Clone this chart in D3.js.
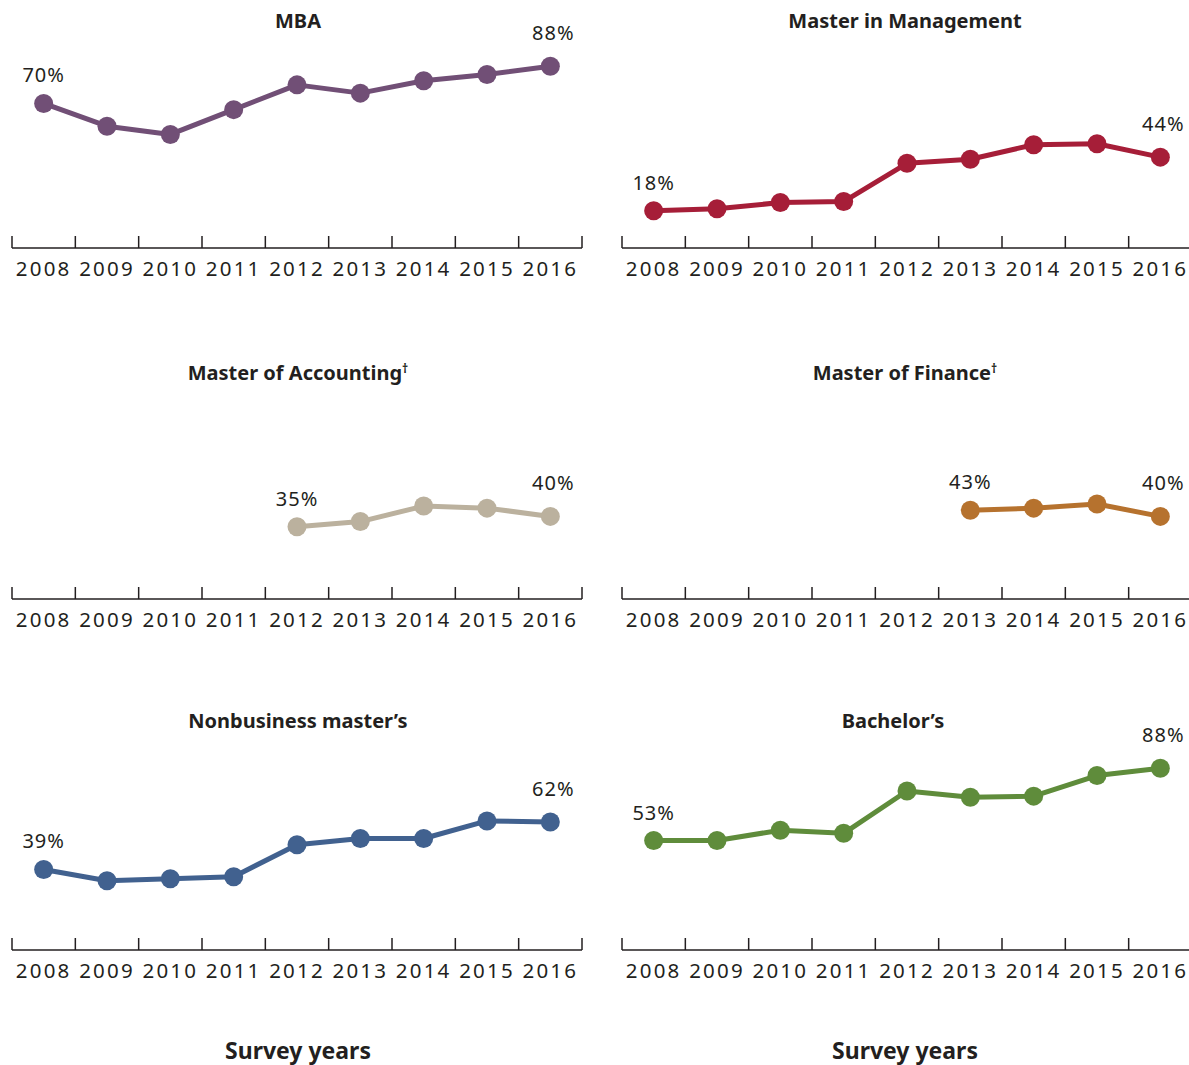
<!DOCTYPE html>
<html>
<head>
<meta charset="utf-8">
<script src="https://cdn.jsdelivr.net/npm/d3@7"></script>
<style>
  body { margin: 0; background: #fff; }
  text { font-family: "Noto Sans", sans-serif; fill: #231f20; }
</style>
</head>
<body>
<div id="chart"></div>
<script>
// survey years (x categories)
const years = [2008, 2009, 2010, 2011, 2012, 2013, 2014, 2015, 2016];

// percentage values per program, null = not surveyed
const mbaValues = [70, 59, 55, 67, 79, 75, 81, 84, 88];
const mimValues = [18, 19, 22, 22.5, 41, 43, 50, 50.5, 44];
const maccValues = [null, null, null, null, 35, 37.5, 45, 44, 40];
const mfinValues = [null, null, null, null, null, 43, 44, 46, 40];
const nonbizValues = [39, 33.5, 34.5, 35.5, 51, 54, 54, 62.5, 62];
const bachelorValues = [53, 53, 58, 56.5, 77, 74, 74.5, 84.5, 88];

const titles = ["MBA", "Master in Management", "Master of Accounting",
    "Master of Finance", "Nonbusiness master\u2019s", "Bachelor\u2019s"];
const titleMarks = ["", "", "\u2020", "\u2020", "", ""];
const xTitle = "Survey years";

const colors = ["#714f76", "#a61e38", "#bbb19e", "#b6722e", "#41618f", "#5f8c3b"];

const series = [mbaValues, mimValues, maccValues, mfinValues, nonbizValues, bachelorValues];

const width = 1189, height = 1065;
const svg = d3.select("#chart").append("svg")
    .attr("width", width)
    .attr("height", height);

// panel layout: left/right columns, 3 rows
const cols = [[12, 582], [622, 1192]];
const axisY = [248, 599, 950];
const titleY = [28, 380, 728];
const titleX = [298, 905, 298, 905, 298, 893];
const plotH = 206.5; // px for 0..100%

series.forEach((vals, i) => {
    const col = i % 2, row = Math.floor(i / 2);
    const x = d3.scaleBand().domain(years).range(cols[col]).padding(0);
    const y = d3.scaleLinear().domain([0, 100]).range([axisY[row], axisY[row] - plotH]);
    const g = svg.append("g");

    const t = g.append("text")
        .attr("x", titleX[i])
        .attr("y", titleY[row])
        .attr("text-anchor", "middle")
        .attr("font-size", "20px")
        .attr("font-weight", "bold")
        .text(titles[i]);
    if (titleMarks[i]) {
        t.append("tspan")
            .attr("font-size", "12px")
            .attr("dy", -7)
            .text(titleMarks[i]);
    }

    // axis labels
    const axis = g.append("g")
        .attr("transform", `translate(0, ${axisY[row]})`)
        .call(d3.axisBottom(x).tickSize(0).tickPadding(13));
    axis.select(".domain").remove();
    axis.selectAll("text")
        .attr("font-size", "20.5px")
        .attr("letter-spacing", "2.2px")
        .attr("font-family", "Noto Sans")
        .attr("fill", "#231f20");

    // baseline + boundary ticks
    g.append("line")
        .attr("x1", cols[col][0]).attr("x2", cols[col][1])
        .attr("y1", axisY[row]).attr("y2", axisY[row])
        .attr("stroke", "#231f20").attr("stroke-width", 1.5);
    const bounds = years.map(d => x(d)).concat([x.range()[1]]);
    g.selectAll("line.tick")
        .data(bounds)
        .enter().append("line")
        .attr("class", "tick")
        .attr("x1", d => d).attr("x2", d => d)
        .attr("y1", axisY[row]).attr("y2", axisY[row] - 12)
        .attr("stroke", "#231f20").attr("stroke-width", 1.5);

    const pts = years.map((yr, j) => ({ yr, v: vals[j] })).filter(d => d.v !== null);
    const cx = d => x(d.yr) + x.bandwidth() / 2;

    g.append("path")
        .datum(pts)
        .attr("fill", "none")
        .attr("stroke", colors[i])
        .attr("stroke-width", 5)
        .attr("stroke-linejoin", "round")
        .attr("d", d3.line().x(cx).y(d => y(d.v)));

    g.selectAll("circle")
        .data(pts)
        .enter().append("circle")
        .attr("cx", cx)
        .attr("cy", d => y(d.v))
        .attr("r", 9.5)
        .attr("fill", colors[i]);

    // first and last value labels
    const first = pts[0], last = pts[pts.length - 1];
    [[first, 0, 21], [last, 3, 26]].forEach(([p, dx, dy]) => {
        g.append("text")
            .attr("x", cx(p) + dx)
            .attr("y", y(p.v) - dy)
            .attr("text-anchor", "middle")
            .attr("font-size", "20px")
            .attr("letter-spacing", "1px")
            .text(Math.round(p.v) + "%");
    });
});

[298, 905].forEach(cxT => {
    svg.append("text")
        .attr("x", cxT)
        .attr("y", 1059)
        .attr("text-anchor", "middle")
        .attr("font-size", "23px")
        .attr("font-weight", "bold")
        .text(xTitle);
});
</script>
</body>
</html>
